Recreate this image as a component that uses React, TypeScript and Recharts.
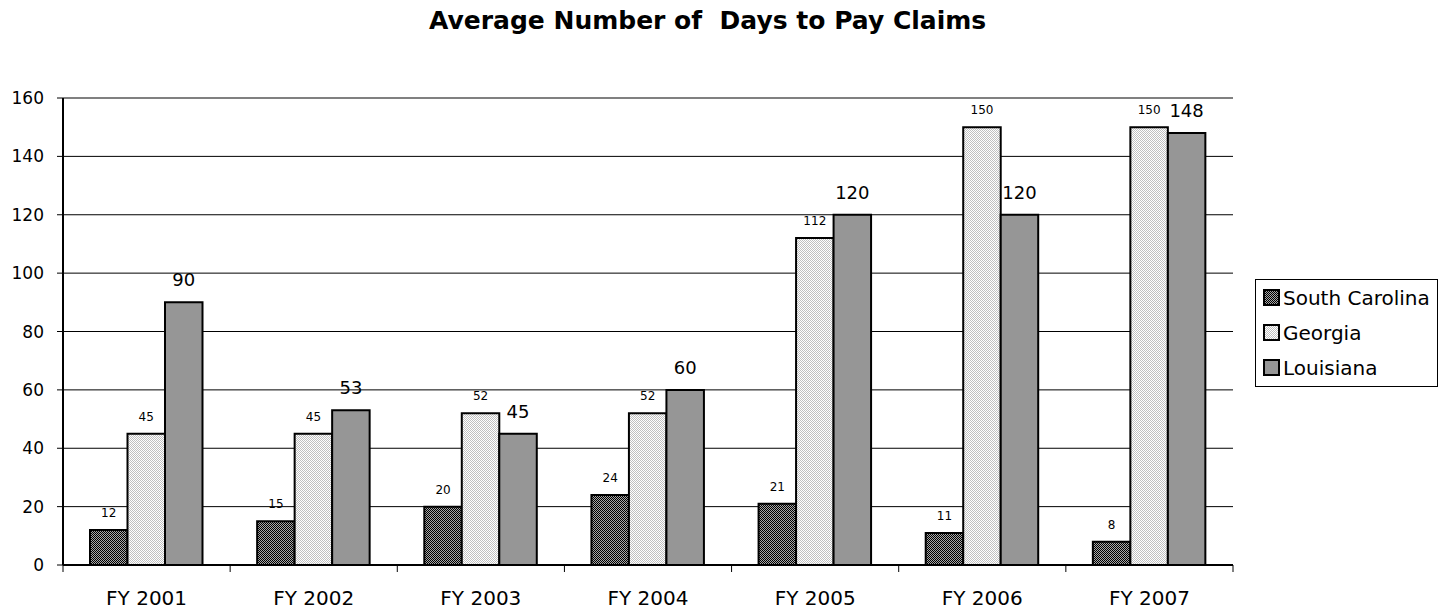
import React from 'react';
import {
  BarChart,
  Bar,
  XAxis,
  YAxis,
  CartesianGrid,
  LabelList,
  ReferenceLine,
} from 'recharts';

const years = ['FY 2001', 'FY 2002', 'FY 2003', 'FY 2004', 'FY 2005', 'FY 2006', 'FY 2007'];
const southCarolina = [12, 15, 20, 24, 21, 11, 8];
const georgia = [45, 45, 52, 52, 112, 150, 150];
const louisiana = [90, 53, 45, 60, 120, 120, 148];
const yTicks = [0, 20, 40, 60, 80, 100, 120, 140, 160];

const FONT = '"DejaVu Sans", sans-serif';
const W = 1433;
const H = 603;
const M = { top: 90, right: 208, bottom: 8, left: 0 };
const Y_W = 55;
const BAND = (W - M.left - M.right - Y_W) / years.length;

const series = [
  { key: 'sc', name: 'South Carolina', fill: 'url(#scPat)' },
  { key: 'ga', name: 'Georgia', fill: 'url(#gaPat)' },
  { key: 'la', name: 'Louisiana', fill: '#969696' },
];

const data = years.map((year, i) => ({
  year,
  sc: southCarolina[i],
  ga: georgia[i],
  la: louisiana[i],
}));

// label in the middle of the band, tick marks on the band edges
const YearTick = (props: any) => {
  const { x, y, payload, index } = props;
  const left = x - BAND / 2;
  return (
    <g>
      <line x1={left} y1={y} x2={left} y2={y + 7} stroke="#000" strokeWidth={1} />
      {index === years.length - 1 && (
        <line x1={x + BAND / 2} y1={y} x2={x + BAND / 2} y2={y + 7} stroke="#000" strokeWidth={1} />
      )}
      <text x={x} y={y + 40} textAnchor="middle" fontSize={20} fontFamily={FONT} fill="#000">
        {payload.value}
      </text>
    </g>
  );
};

const Patterns = () => (
  <svg width={0} height={0} style={{ position: 'absolute' }}>
    <defs>
      <pattern id="scPat" patternUnits="userSpaceOnUse" width={2} height={2}>
        <rect width={2} height={2} fill="#a8a8a8" />
        <rect x={0} y={0} width={1} height={1} fill="#000" />
        <rect x={1} y={1} width={1} height={1} fill="#000" />
      </pattern>
      <pattern id="gaPat" patternUnits="userSpaceOnUse" width={2} height={2}>
        <rect width={2} height={2} fill="#fff" />
        <rect x={0} y={0} width={1} height={1} fill="#c0c0c0" />
        <rect x={1} y={1} width={1} height={1} fill="#c0c0c0" />
      </pattern>
    </defs>
  </svg>
);

export default function App() {
  return (
    <div style={{ position: 'relative', width: W, height: H, fontFamily: FONT }}>
      <style>{'html,body{overflow:hidden}'}</style>
      <Patterns />
      <div
        style={{
          position: 'absolute',
          left: 421,
          top: 0,
          fontSize: 25,
          lineHeight: '25px',
          fontWeight: 'bold',
          whiteSpace: 'pre',
        }}
      >
        {'Average Number of  Days to Pay Claims'}
      </div>
      <BarChart width={W} height={H} data={data} margin={M} barGap={0} barSize={37.5}>
        <CartesianGrid vertical={false} stroke="#000" strokeWidth={1} />
        <XAxis
          dataKey="year"
          height={38}
          interval={0}
          tickSize={0}
          tickMargin={0}
          tickLine={false}
          axisLine={{ stroke: '#000', strokeWidth: 2 }}
          tick={<YearTick />}
        />
        <YAxis
          width={Y_W}
          domain={[0, 160]}
          ticks={yTicks}
          interval={0}
          tickSize={6}
          tickMargin={13}
          axisLine={{ stroke: '#000', strokeWidth: 2 }}
          tickLine={{ stroke: '#000' }}
          tick={{ fontSize: 17, fontFamily: FONT, fill: '#000' }}
        />
        <YAxis
          yAxisId="r"
          orientation="right"
          width={0}
          domain={[0, 160]}
          tick={false}
          tickLine={false}
          axisLine={{ stroke: '#808080', strokeWidth: 2 }}
        />
        <ReferenceLine y={160} stroke="#808080" strokeWidth={2} />
        {series.map((s) => (
          <Bar
            key={s.key}
            dataKey={s.key}
            name={s.name}
            fill={s.fill}
            stroke="#000"
            strokeWidth={2}
            isAnimationActive={false}
          >
            <LabelList
              dataKey={s.key}
              position="top"
              offset={s.key === 'la' ? 16 : 13}
              fontSize={s.key === 'la' ? 18 : 12}
              fontFamily={FONT}
              fill="#000"
            />
          </Bar>
        ))}
      </BarChart>
      <div
        style={{
          position: 'absolute',
          left: 1247,
          top: 271,
          width: 181,
          height: 106,
          border: '1px solid #000',
          background: '#fff',
        }}
      >
        {series.map((s) => (
          <div
            key={s.key}
            style={{ display: 'flex', alignItems: 'center', height: 35, paddingLeft: 7 }}
          >
            <svg width={17} height={17} style={{ marginRight: 3 }}>
              <rect x={1} y={1} width={15} height={15} fill={s.fill} stroke="#000" strokeWidth={2} />
            </svg>
            <span style={{ fontSize: 20, color: '#000', whiteSpace: 'nowrap' }}>{s.name}</span>
          </div>
        ))}
      </div>
    </div>
  );
}
